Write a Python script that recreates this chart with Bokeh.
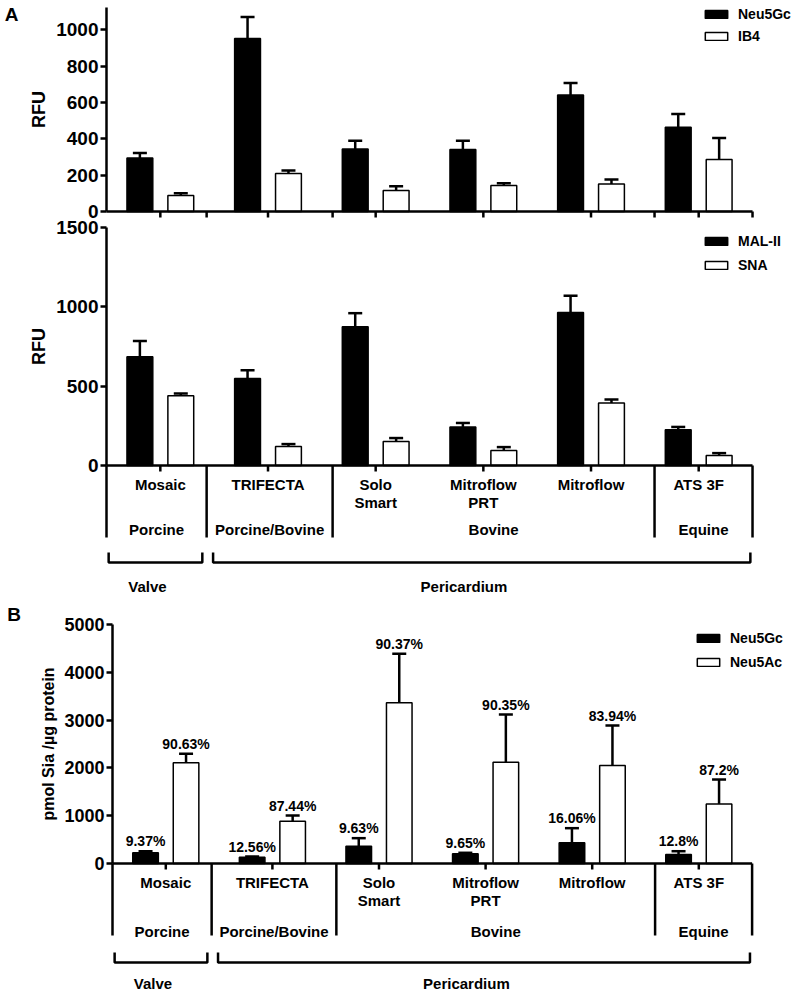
from bokeh.plotting import figure
from bokeh.models import (ColumnDataSource, Whisker, TeeHead, Legend, LegendItem,
                          FixedTicker, Range1d, LinearAxis)
from bokeh.layouts import column
from bokeh.embed import file_html
from bokeh.resources import INLINE
from bokeh.core.properties import value

# ---------------- data ----------------
categories = ["Mosaic", "TRIFECTA", "Solo\nSmart", "Mitroflow\nPRT", "Mitroflow", "ATS 3F"]
species = ["Porcine", "Porcine/Bovine", "Bovine", "Equine"]
tissue = ["Valve", "Pericardium"]

# Panel A, upper: Neu5Gc / IB4 (RFU)
neu5gc_a = [295, 952, 344, 341, 641, 463]
neu5gc_a_err = [27, 119, 46, 49, 66, 74]
ib4 = [88, 209, 115, 143, 152, 286]
ib4_err = [12, 16, 24, 13, 24, 119]

# Panel A, lower: MAL-II / SNA (RFU)
mal2 = [685, 549, 875, 243, 964, 226]
mal2_err = [100, 52, 85, 25, 106, 17]
sna = [439, 120, 152, 95, 394, 63]
sna_err = [15, 15, 21, 21, 22, 15]

# Panel B: pmol Sia / ug protein
neu5gc_b = [224, 132, 362, 203, 433, 188]
neu5gc_b_err = [33, 14, 168, 21, 306, 69]
neu5ac_b = [2107, 885, 3362, 2119, 2050, 1247]
neu5ac_b_err = [188, 119, 1026, 998, 837, 510]
pct_gc = ["9.37%", "12.56%", "9.63%", "9.65%", "16.06%", "12.8%"]
pct_ac = ["90.63%", "87.44%", "90.37%", "90.35%", "83.94%", "87.2%"]

yticks_a_top = [0, 200, 400, 600, 800, 1000]
yticks_a_bot = [0, 500, 1000, 1500]
yticks_b = [0, 1000, 2000, 3000, 4000, 5000]

# ---------------- layout constants ----------------
FONT = "Liberation Sans"
SEP = [0.93, 2.1, 5.09, 6.0]          # group separator lines (category units)
GROUP_EDGES = [0.0] + SEP
BRACKETS = [(0.02, 0.89), (0.99, 5.98)]
TISSUE_X = [0.38, 3.32]
OFF = 0.19
BW = 0.24
LW = 2.5
TOTAL_W = 800

centers = [i + 0.5 for i in range(len(categories))]


def style_axis(ax, ticks, bounds, tick_size, ylabel, lab_size):
    ax.fixed_location = 0
    ax.ticker = FixedTicker(ticks=ticks)
    ax.bounds = bounds
    ax.major_tick_out = 6
    ax.major_tick_in = 0
    ax.minor_tick_out = 0
    ax.minor_tick_in = 0
    ax.axis_line_width = LW
    ax.axis_line_color = "black"
    ax.major_tick_line_width = LW
    ax.major_tick_line_color = "black"
    ax.major_label_text_font = FONT
    ax.major_label_text_font_style = "bold"
    ax.major_label_text_font_size = tick_size
    ax.major_label_text_color = "black"
    ax.major_label_standoff = 2
    ax.axis_label = ylabel
    ax.axis_label_text_font = FONT
    ax.axis_label_text_font_style = "bold"
    ax.axis_label_text_font_size = lab_size
    ax.axis_label_text_color = "black"
    ax.axis_label_standoff = 4


def base_fig(height, x0px, kx, y_zero_px, sy):
    p = figure(width=TOTAL_W, height=height,
               x_range=Range1d(-x0px / kx, (TOTAL_W - x0px) / kx),
               y_range=Range1d(-(height - y_zero_px) / sy, y_zero_px / sy),
               output_backend="svg", toolbar_location=None,
               x_axis_location=None, min_border_left=0, min_border_right=0,
               min_border_top=0, min_border_bottom=0)
    p.title.visible = False
    p.xgrid.visible = False
    p.ygrid.visible = False
    p.outline_line_color = None
    return p


def txt(p, x, y, text, size, align="center", baseline="middle", **kw):
    p.text(x=x, y=y, text=text, text_align=align, text_baseline=baseline,
           text_font=value(FONT), text_font_style="bold", text_font_size=size, **kw)


def bars(p, v1, e1, v2, e2, n1, n2, legend_xy, spacing, yr="default"):
    src = ColumnDataSource(dict(
        xb=[c - OFF for c in centers], xw=[c + OFF for c in centers],
        v1=v1, v1h=[a + b for a, b in zip(v1, e1)],
        v2=v2, v2h=[a + b for a, b in zip(v2, e2)]))
    r1 = p.vbar(x="xb", top="v1", bottom=0, width=BW, source=src, y_range_name=yr,
                fill_color="black", line_color="black", line_width=1.5)
    r2 = p.vbar(x="xw", top="v2", bottom=0, width=BW, source=src, y_range_name=yr,
                fill_color="white", line_color="black", line_width=1.5)
    for b, lo, hi in (("xb", "v1", "v1h"), ("xw", "v2", "v2h")):
        w = Whisker(source=src, base=b, lower=lo, upper=hi, dimension="height",
                    y_range_name=yr, line_width=LW, line_color="black", lower_head=None,
                    upper_head=TeeHead(size=14, line_width=LW, line_color="black"))
        p.add_layout(w)
    leg = Legend(items=[LegendItem(label=n1, renderers=[r1]),
                        LegendItem(label=n2, renderers=[r2])],
                 location=legend_xy, padding=0, margin=0, spacing=spacing,
                 glyph_width=28, glyph_height=10, label_standoff=8, label_height=10,
                 border_line_color=None, background_fill_alpha=0,
                 label_text_font=FONT, label_text_font_style="bold",
                 label_text_font_size="14px", label_text_color="black")
    p.add_layout(leg)
    return src


def baseline(p, s, tick_x, yr="default"):
    p.segment(x0=[0], y0=[0], x1=[SEP[-1]], y1=[0], line_color="black",
              line_width=LW, y_range_name=yr)
    p.segment(x0=tick_x, y0=[0] * len(tick_x), x1=tick_x, y1=[-6 / s] * len(tick_x),
              line_color="black", line_width=LW, y_range_name=yr)


def table(p, s, lab_dy, grp_dy, br_top, br_bot, tis_dy, yr="default"):
    baseline(p, s, centers, yr)
    seps = [0.0] + SEP
    p.segment(x0=seps, y0=[0] * len(seps), x1=seps, y1=[-72 / s] * len(seps),
              line_color="black", line_width=LW, y_range_name=yr)
    txt(p, centers, [-lab_dy / s] * len(centers), categories, "15px",
        baseline="top", text_line_height=1.1, y_range_name=yr)
    gx = [(GROUP_EDGES[i] + GROUP_EDGES[i + 1]) / 2 for i in range(len(species))]
    txt(p, gx, [-grp_dy / s] * len(gx), species, "15px", y_range_name=yr)
    for a, b in BRACKETS:
        p.line(x=[a, a, b, b], y=[-br_top / s, -br_bot / s, -br_bot / s, -br_top / s],
               line_color="black", line_width=LW, y_range_name=yr)
    txt(p, TISSUE_X, [-tis_dy / s] * 2, tissue, "15px", y_range_name=yr)


# ---------------- figure A (both panels share one canvas) ----------------
HA = 600
kA = 107.67
s1 = 0.1817            # px per RFU, upper panel (zero at 211 px)
s2 = 238 / 1500        # px per RFU, lower panel (zero at 465 px)
pA = base_fig(HA, 106, kA, 211, s1)
pA.extra_y_ranges = {"bot": Range1d(-(HA - 465) / s2, 465 / s2)}
style_axis(pA.yaxis[0], yticks_a_top, (0, 204 / s1), "19px", "RFU", "18px")
ax_bot = LinearAxis(y_range_name="bot")
style_axis(ax_bot, yticks_a_bot, (0, 1500), "19px", "RFU", "18px")
pA.add_layout(ax_bot, "left")

bars(pA, neu5gc_a, neu5gc_a_err, ib4, ib4_err, "Neu5Gc", "IB4", (702, 556), 6)
baseline(pA, s1, centers + SEP)
bars(pA, mal2, mal2_err, sna, sna_err, "MAL-II", "SNA", (702, 327), 8, yr="bot")
table(pA, s2, 10, 64, 87, 97, 121, yr="bot")
txt(pA, [-95 / kA], [197 / s1], ["A"], "19px")

# ---------------- figure B ----------------
HB = 393
kB = 106.6
s3 = 239 / 5000
pB = base_fig(HB, 112, kB, 263, s3)
style_axis(pB.yaxis[0], yticks_b, (0, 5000), "18px",
           "pmol Sia /\u00b5g protein", "16px")
src_b = bars(pB, neu5gc_b, neu5gc_b_err, neu5ac_b, neu5ac_b_err, "Neu5Gc", "Neu5Ac",
             (694, 323), 8)
src_b.data["pgc"] = pct_gc
src_b.data["pac"] = pct_ac
for xk, yk, tk in (("xb", "v1h", "pgc"), ("xw", "v2h", "pac")):
    pB.text(x=xk, y=yk, text=tk, source=src_b, text_align="center",
            text_baseline="bottom", y_offset=-2, text_font=value(FONT),
            text_font_style="bold", text_font_size="14px", text_color="black")
table(pB, s3, 10, 68, 89, 99, 120)
txt(pB, [-98.5 / kB], [249 / s3], ["B"], "19px")

layout = column(pA, pB)
open("out.html", "w").write(file_html(layout, INLINE))
